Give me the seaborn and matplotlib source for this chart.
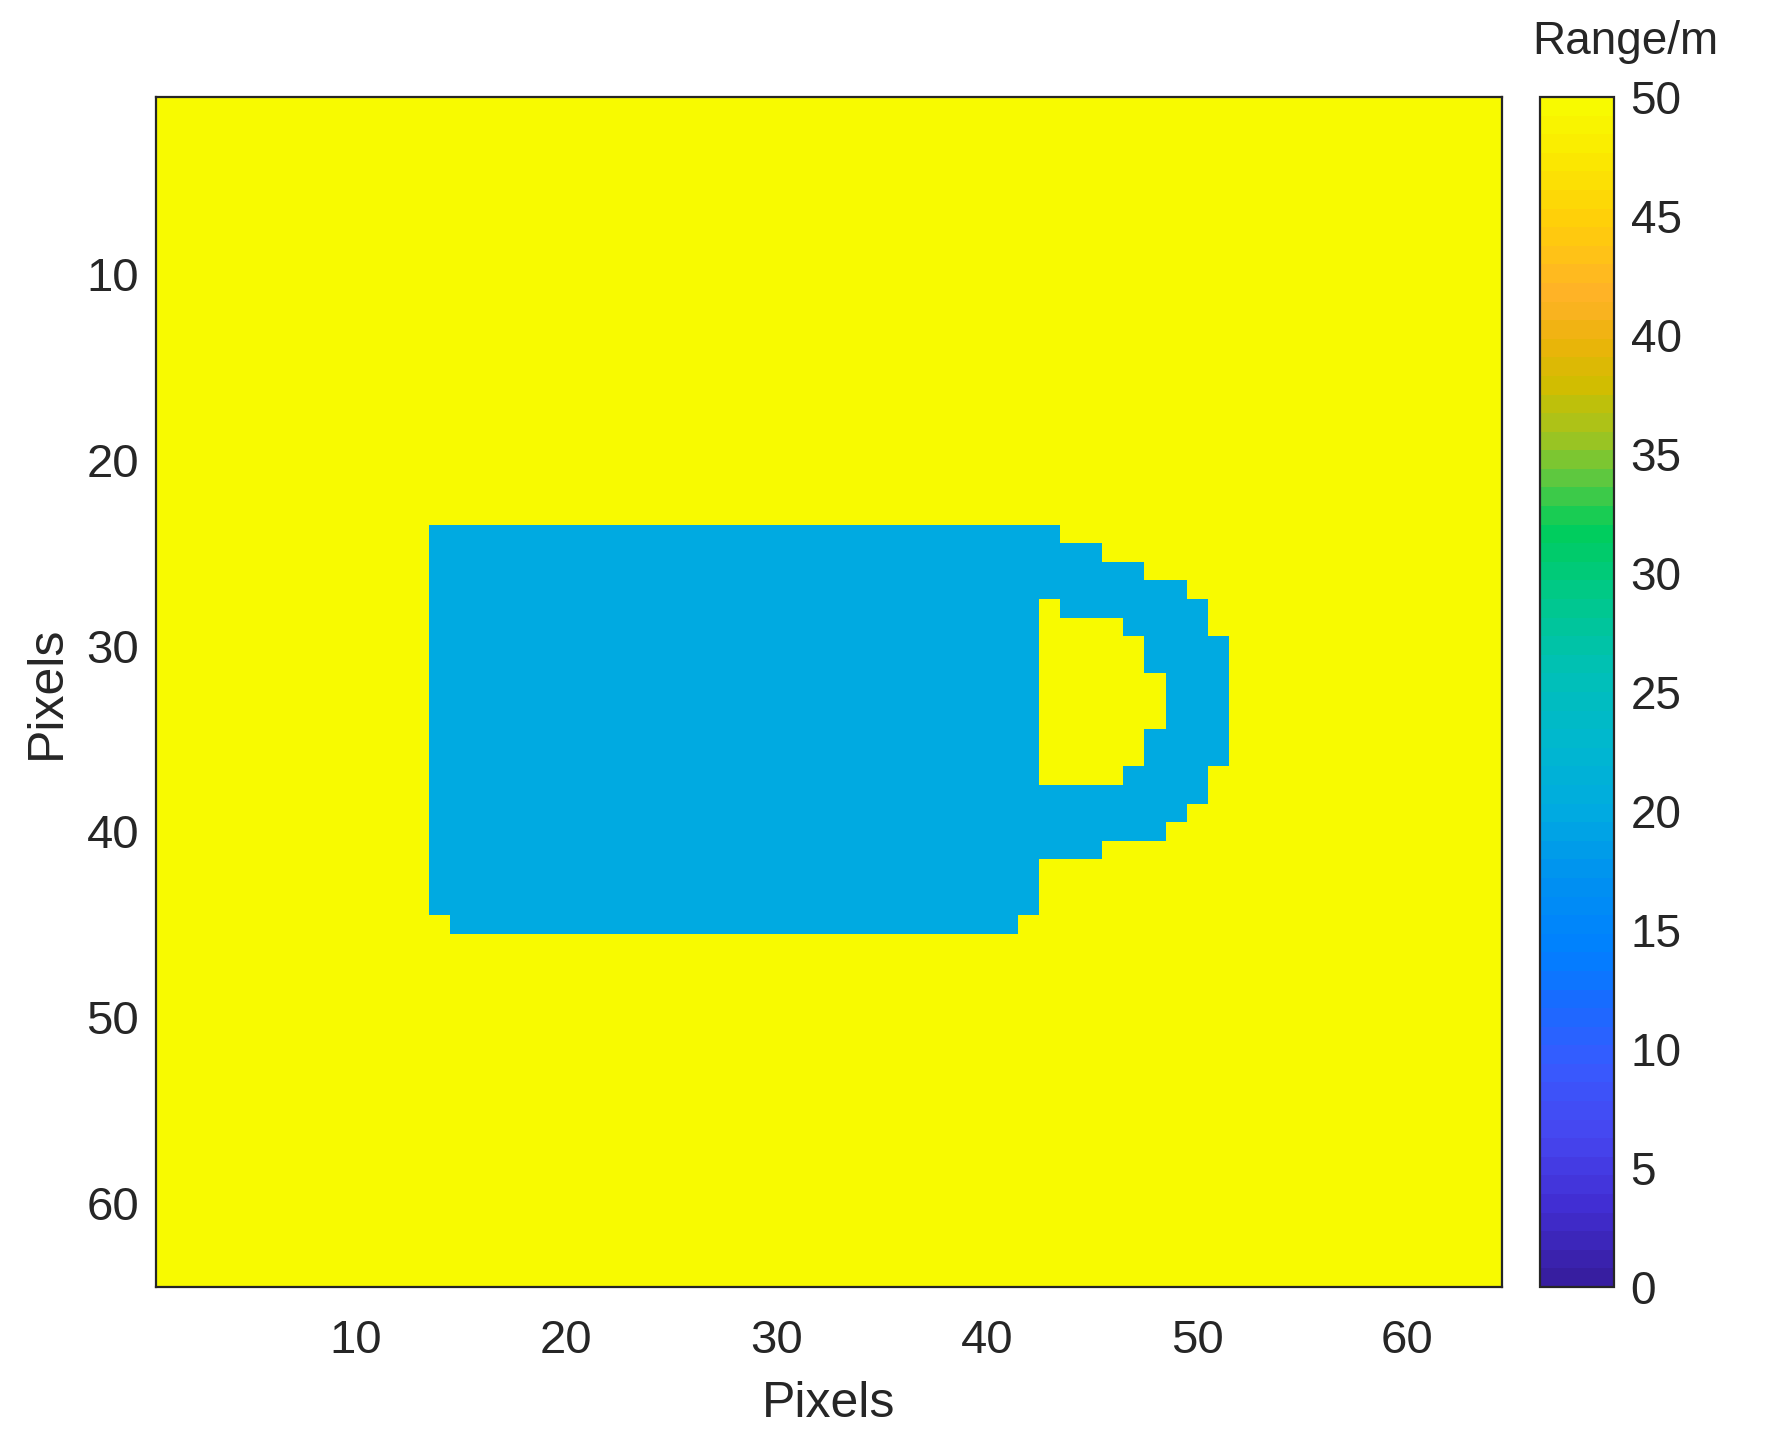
"""
Range image of a mug-shaped target (64x64 pixels), MATLAB-style imagesc look
"""

import numpy as np
import pandas as pd
import matplotlib
matplotlib.use("Agg")
import matplotlib.pyplot as plt
from matplotlib.colors import LinearSegmentedColormap, ListedColormap
import seaborn as sns

# ─── Data ───────────────────────────────────────────────────────────────────
N_PIX = 64
BACKGROUND_RANGE = 50      # m, empty scene
TARGET_RANGE = 20          # m, the mug

# target rows (1-indexed) with first / last column covered in each row
MUG_ROWS  = [24, 25, 26, 27, 28, 29, 30, 31, 32, 33, 34,
             35, 36, 37, 38, 39, 40, 41, 42, 43, 44, 45]
MUG_LEFT  = [14, 14, 14, 14, 14, 14, 14, 14, 14, 14, 14,
             14, 14, 14, 14, 14, 14, 14, 14, 14, 14, 15]
MUG_RIGHT = [43, 45, 47, 49, 50, 50, 51, 51, 51, 51, 51,
             51, 51, 50, 50, 49, 48, 45, 42, 42, 42, 41]

# hole inside the handle (background seen through it)
HOLE_ROWS  = [28, 29, 30, 31, 32, 33, 34, 35, 36, 37]
HOLE_LEFT  = [43, 43, 43, 43, 43, 43, 43, 43, 43, 43]
HOLE_RIGHT = [43, 46, 47, 47, 48, 48, 48, 47, 47, 46]

AXIS_TICKS = [10, 20, 30, 40, 50, 60]
CBAR_TICKS = [0, 5, 10, 15, 20, 25, 30, 35, 40, 45, 50]

# ─── Style ──────────────────────────────────────────────────────────────────
TEXT = "#262626"
FONT = ["Liberation Sans", "DejaVu Sans"]

# parula-like map, as saturated as in the reference colour bar
CMAP_STOPS = [
    (0,  (55, 30, 160)),
    (3,  (65, 45, 210)),
    (6,  (70, 70, 240)),
    (9,  (55, 90, 255)),
    (12, (20, 110, 255)),
    (14, (0, 128, 255)),
    (17, (0, 145, 240)),
    (20, (0, 172, 224)),
    (23, (0, 184, 205)),
    (26, (0, 192, 182)),
    (29, (0, 200, 140)),
    (32, (0, 205, 90)),
    (34, (90, 200, 65)),
    (36, (165, 195, 30)),
    (38, (205, 190, 0)),
    (40, (235, 180, 10)),
    (42, (255, 178, 40)),
    (45, (255, 205, 10)),
    (48, (250, 235, 0)),
    (50, (248, 250, 0)),
]
base = LinearSegmentedColormap.from_list(
    "parula_like",
    [(v / 50, tuple(c / 255 for c in rgb)) for v, rgb in CMAP_STOPS])
CMAP = ListedColormap(base(np.linspace(0, 1, 64)))

sns.set_style("white")
plt.rcParams.update({
    "font.family": FONT,
    "text.color": TEXT,
    "axes.edgecolor": TEXT,
    "xtick.color": TEXT,
    "ytick.color": TEXT,
    "axes.labelcolor": TEXT,
})

# ─── Build the range image ──────────────────────────────────────────────────
img = np.full((N_PIX, N_PIX), BACKGROUND_RANGE, dtype=float)
for r, c0, c1 in zip(MUG_ROWS, MUG_LEFT, MUG_RIGHT):
    img[r - 1, c0 - 1:c1] = TARGET_RANGE
for r, c0, c1 in zip(HOLE_ROWS, HOLE_LEFT, HOLE_RIGHT):
    img[r - 1, c0 - 1:c1] = BACKGROUND_RANGE

df = pd.DataFrame(img, index=np.arange(1, N_PIX + 1), columns=np.arange(1, N_PIX + 1))

# ─── Plot ───────────────────────────────────────────────────────────────────
fig = plt.figure(figsize=(17.72, 14.40), dpi=100)
ax = fig.add_axes([156 / 1772, 153 / 1440, 1346 / 1772, 1190 / 1440])
cax = fig.add_axes([1540 / 1772, 153 / 1440, 74 / 1772, 1190 / 1440])

sns.heatmap(df, ax=ax, cbar_ax=cax, cmap=CMAP, vmin=0, vmax=50,
            xticklabels=False, yticklabels=False, linewidths=0)

# MATLAB-like box and inward ticks
for sp in ax.spines.values():
    sp.set_visible(True)
    sp.set_linewidth(1.6)
    sp.set_edgecolor(TEXT)
ax.set_xticks(np.array(AXIS_TICKS) - 0.5)
ax.set_xticklabels([str(t) for t in AXIS_TICKS])
ax.set_yticks(np.array(AXIS_TICKS) - 0.5)
ax.set_yticklabels([str(t) for t in AXIS_TICKS], rotation=0)
ax.tick_params(axis="both", direction="in", top=True, right=True,
               length=11, width=1.2, labelsize=34)
ax.tick_params(axis="x", pad=23)
ax.tick_params(axis="y", pad=12)
ax.set_xlabel("Pixels", fontsize=36, labelpad=13)
ax.set_ylabel("Pixels", fontsize=36, labelpad=12)

# colour bar
cbar = ax.collections[0].colorbar
cbar.outline.set_visible(True)
cbar.outline.set_linewidth(1.6)
cbar.outline.set_edgecolor(TEXT)
cbar.set_ticks(CBAR_TICKS)
cbar.set_ticklabels([str(t) for t in CBAR_TICKS])
cax.tick_params(direction="in", length=9, width=1.2, labelsize=33,
                right=True, left=False, pad=12, colors=TEXT)
fig.text(1625 / 1772, 1 - 42 / 1440, "Range/m", fontsize=33,
         ha="center", va="center", color=TEXT)

fig.savefig("out.png", dpi=100, facecolor="white")
plt.close(fig)
